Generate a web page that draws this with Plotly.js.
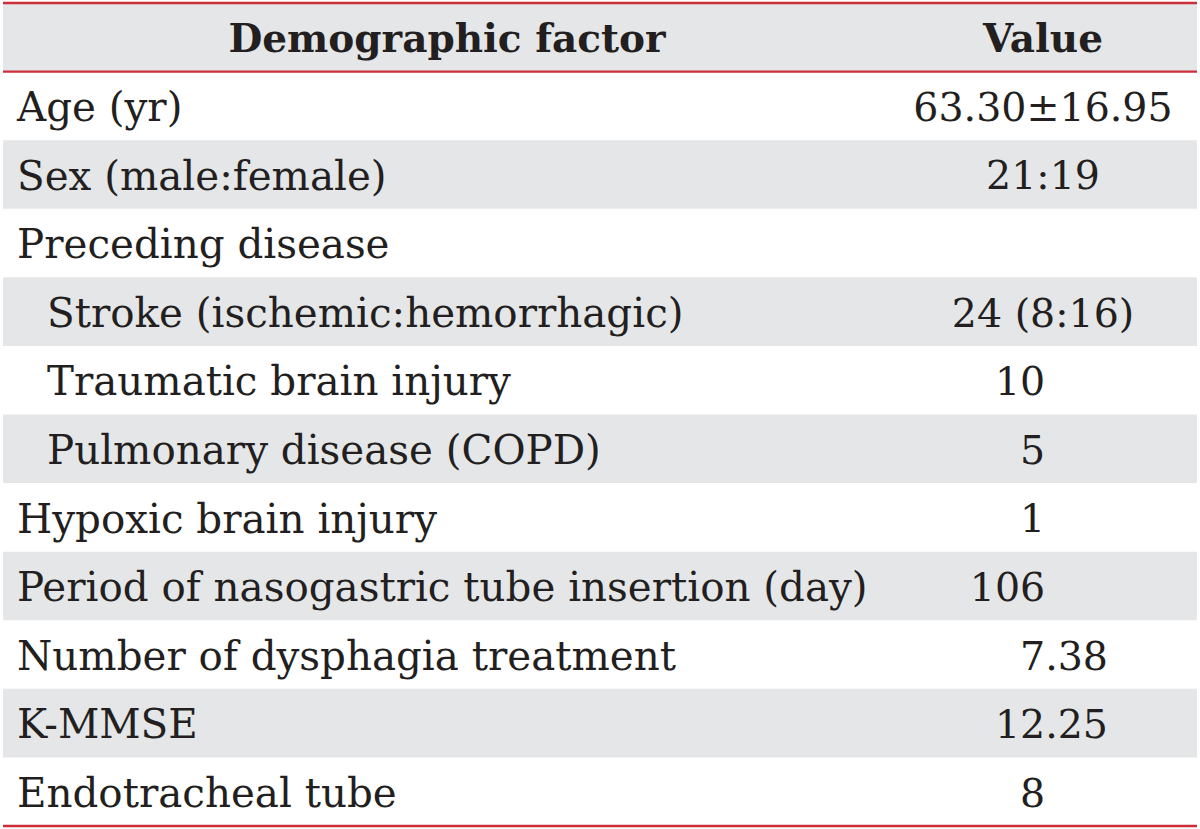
<!DOCTYPE html>
<html><head><meta charset="utf-8">
<script src="https://cdn.plot.ly/plotly-3.0.1.min.js"></script>
<style>html,body{margin:0;padding:0;background:#fff}</style>
</head><body>
<div id="chart" style="width:1200px;height:829px"></div>
<script>
const headers = ["Demographic factor", "Value"];
const factors = ["Age (yr)", "Sex (male:female)", "Preceding disease", "Stroke (ischemic:hemorrhagic)", "Traumatic brain injury", "Pulmonary disease (COPD)", "Hypoxic brain injury", "Period of nasogastric tube insertion (day)", "Number of dysphagia treatment", "K-MMSE", "Endotracheal tube"];
const values = ["63.30±16.95", "21:19", "", "24 (8:16)", "10", "5", "1", "106", "7.38", "12.25", "8"];
const indentLevel = [0, 0, 0, 1, 1, 1, 0, 0, 0, 0, 0];

const FONT = "DejaVu Serif";
const FS = 40.4;
const VFS = 39.5;
const HFS = 39;
const TXT = "#231f20";
const RED = "#cc2e3a";
const GRAY = "#e5e6e8";
const NUDGE = 0.075; // text baseline sits slightly low in each row
const rows = factors.map((_, i) => i);

const shapes = [];
shapes.push({type:"rect", xref:"paper", yref:"y", x0:0, x1:1, y0:-1.5, y1:-0.5, fillcolor:GRAY, line:{width:0}, layer:"below"});
rows.forEach(i => { if (i % 2 === 1) shapes.push({type:"rect", xref:"paper", yref:"y", x0:0, x1:1, y0:i-0.5, y1:i+0.5, fillcolor:GRAY, line:{width:0}, layer:"below"}); });
shapes.push({type:"line", xref:"paper", yref:"paper", x0:0, x1:1, y0:1, y1:1, line:{color:RED, width:2.4}});
shapes.push({type:"line", xref:"paper", yref:"y", x0:0, x1:1, y0:-0.5, y1:-0.5, line:{color:RED, width:2.4}});
shapes.push({type:"line", xref:"paper", yref:"paper", x0:0, x1:1, y0:0, y1:0, line:{color:RED, width:2.4}});

const labelX = 14, indentStep = 30, col1Center = 444, col2Center = 1040, decimalRight = 1105;

// numeric values are decimal-aligned: pad the fraction to two places with figure/punctuation spaces
const isNumeric = v => /^\d+(\.\d+)?$/.test(v);
const padNum = v => {
  const frac = v.includes(".") ? v.split(".")[1].length : -1;
  return v + (frac < 0 ? "\u2008\u2007\u2007" : "\u2007".repeat(2 - frac));
};
const numRows = rows.filter(i => isNumeric(values[i]));
const otherRows = rows.filter(i => values[i] !== "" && !isNumeric(values[i]));

const tf = {family:FONT, size:FS, color:TXT};
const vf = {family:FONT, size:VFS, color:TXT};
const traces = [
  {type:"scatter", mode:"text", x:[col1Center, col2Center], y:[-1 + NUDGE, -1 + NUDGE], text:headers.map(h => "<b>" + h + "</b>"),
   textposition:"middle center", textfont:{family:FONT, size:HFS, color:TXT}, hoverinfo:"skip", cliponaxis:false},
  {type:"scatter", mode:"text", x:indentLevel.map(l => labelX + l * indentStep), y:rows.map(i => i + NUDGE), text:factors,
   textposition:"middle right", textfont:tf, hoverinfo:"skip", cliponaxis:false},
  {type:"scatter", mode:"text", x:otherRows.map(() => col2Center), y:otherRows.map(i => i + NUDGE), text:otherRows.map(i => values[i]),
   textposition:"middle center", textfont:vf, hoverinfo:"skip", cliponaxis:false},
  {type:"scatter", mode:"text", x:numRows.map(() => decimalRight), y:numRows.map(i => i + NUDGE), text:numRows.map(i => padNum(values[i])),
   textposition:"middle left", textfont:vf, hoverinfo:"skip", cliponaxis:false}
];

const layout = {
  width:1200, height:829,
  margin:{l:3, r:3, t:3, b:3, pad:0},
  paper_bgcolor:"#fff", plot_bgcolor:"#fff",
  xaxis:{range:[0, 1194], visible:false, fixedrange:true},
  yaxis:{range:[factors.length - 0.5, -1.5], visible:false, fixedrange:true},
  shapes:shapes, showlegend:false
};
Plotly.newPlot("chart", traces, layout, {staticPlot:true, displayModeBar:false});
</script>
</body></html>
